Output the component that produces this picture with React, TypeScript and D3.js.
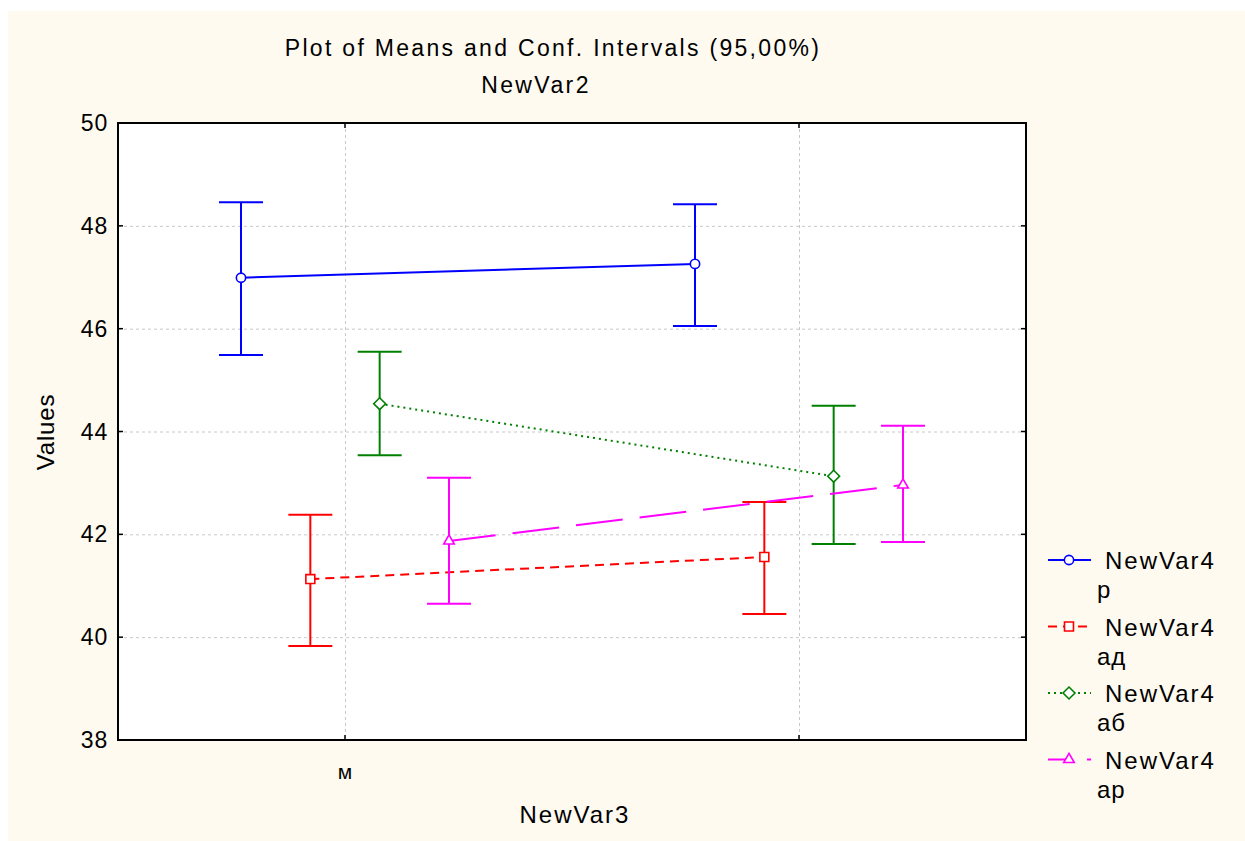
import React, { useRef, useEffect } from 'react';
import * as d3 from 'd3';

// categories on the x axis (second level has no printed label)
const categories = ['м', ''];
const seriesNames = ['р', 'ад', 'аб', 'ар'];
const seriesColors = ['#0000ff', '#ff0000', '#008000', '#ff00ff'];
const seriesDash = ['none', '9,6', '2,4', '47,17'];
const seriesMarker = ['circle', 'square', 'diamond', 'triangle'];

// means and 95% CI bounds per series, one value per category
const meansP = [46.99, 47.26];
const lowerP = [45.49, 46.05];
const upperP = [48.46, 48.42];

const meansAd = [41.13, 41.56];
const lowerAd = [39.83, 40.45];
const upperAd = [42.38, 42.63];

const meansAb = [44.54, 43.13];
const lowerAb = [43.54, 41.81];
const upperAb = [45.55, 44.5];

const meansAr = [41.87, 42.96];
const lowerAr = [40.65, 41.85];
const upperAr = [43.1, 44.11];

const yTicks = [38, 40, 42, 44, 46, 48, 50];

const allMeans = [meansP, meansAd, meansAb, meansAr];
const allLower = [lowerP, lowerAd, lowerAb, lowerAr];
const allUpper = [upperP, upperAd, upperAb, upperAr];

const W = 1245;
const H = 841;
const margin = { top: 123, right: 219, bottom: 101, left: 118 };
const FONT = '"Liberation Sans", Arial, sans-serif';

const markerPath = (type: string) => {
  const sym =
    type === 'circle' ? d3.symbolCircle :
    type === 'square' ? d3.symbolSquare :
    type === 'diamond' ? d3.symbolDiamond2 : d3.symbolTriangle2;
  const size = type === 'circle' ? 68 : type === 'diamond' ? 90 : 80;
  return d3.symbol().type(sym).size(size)() as string;
};

const App = () => {
  const ref = useRef<SVGSVGElement>(null);

  useEffect(() => {
    const svg = d3.select(ref.current);
    svg.selectAll('*').remove();

    const x0 = margin.left;
    const x1 = W - margin.right;
    const y0 = margin.top;
    const y1 = H - margin.bottom;

    const xScale = d3.scaleBand().domain(categories.map((c, i) => String(i))).range([x0, x1]);
    const offset = d3.scalePoint().domain(seriesNames).range([-104, 104]);
    const yScale = d3.scaleLinear().domain([38, 50]).range([y1, y0]);
    const cx = (i: number) => (xScale(String(i)) as number) + xScale.bandwidth() / 2;

    // background panel
    svg.append('rect').attr('x', 8).attr('y', 11).attr('width', W - 8).attr('height', H - 11).attr('fill', '#fefaf0');
    svg.append('rect').attr('x', x0).attr('y', y0).attr('width', x1 - x0).attr('height', y1 - y0).attr('fill', '#ffffff');

    // grid
    const grid = svg.append('g').attr('stroke', '#c8c8c8').attr('stroke-width', 1).attr('stroke-dasharray', '3,3');
    yTicks.slice(1, -1).forEach(t => {
      grid.append('line').attr('x1', x0).attr('x2', x1).attr('y1', yScale(t) + 0.5).attr('y2', yScale(t) + 0.5);
    });
    categories.forEach((c, i) => {
      grid.append('line').attr('x1', cx(i) + 0.5).attr('x2', cx(i) + 0.5).attr('y1', y0).attr('y2', y1);
    });

    // frame and inward ticks
    svg.append('rect').attr('x', x0).attr('y', y0).attr('width', x1 - x0).attr('height', y1 - y0)
      .attr('fill', 'none').attr('stroke', '#000').attr('stroke-width', 2);
    const ticks = svg.append('g').attr('stroke', '#000').attr('stroke-width', 1.5);
    yTicks.slice(1, -1).forEach(t => {
      ticks.append('line').attr('x1', x0).attr('x2', x0 + 5).attr('y1', yScale(t)).attr('y2', yScale(t));
      ticks.append('line').attr('x1', x1 - 5).attr('x2', x1).attr('y1', yScale(t)).attr('y2', yScale(t));
    });
    categories.forEach((c, i) => {
      ticks.append('line').attr('x1', cx(i)).attr('x2', cx(i)).attr('y1', y1).attr('y2', y1 - 5);
      ticks.append('line').attr('x1', cx(i)).attr('x2', cx(i)).attr('y1', y0).attr('y2', y0 + 5);
    });

    // y tick labels
    svg.append('g').selectAll('text').data(yTicks).enter().append('text')
      .attr('x', 108).attr('y', d => yScale(d) + 8)
      .attr('text-anchor', 'end').attr('font-family', FONT).attr('font-size', 23)
      .attr('letter-spacing', 0.8).attr('fill', '#000').text(d => d);

    // x tick labels
    categories.forEach((c, i) => {
      svg.append('text').attr('x', cx(i)).attr('y', 779).attr('text-anchor', 'middle')
        .attr('font-family', FONT).attr('font-size', 21).text(c);
    });

    // titles
    svg.append('text').attr('x', 553).attr('y', 56).attr('text-anchor', 'middle')
      .attr('font-family', FONT).attr('font-size', 23).attr('letter-spacing', 2.3)
      .text('Plot of Means and Conf. Intervals (95,00%)');
    svg.append('text').attr('x', 536).attr('y', 93).attr('text-anchor', 'middle')
      .attr('font-family', FONT).attr('font-size', 23).attr('letter-spacing', 2.4).text('NewVar2');
    svg.append('text').attr('x', 575).attr('y', 823).attr('text-anchor', 'middle')
      .attr('font-family', FONT).attr('font-size', 24).attr('letter-spacing', 2).text('NewVar3');
    svg.append('text').attr('transform', 'translate(54,432) rotate(-90)').attr('text-anchor', 'middle')
      .attr('font-family', FONT).attr('font-size', 24).attr('letter-spacing', 0.8).text('Values');

    // series
    seriesNames.forEach((name, s) => {
      const g = svg.append('g');
      const color = seriesColors[s];
      const pts = allMeans[s].map((m, i) => [cx(i) + (offset(name) as number), yScale(m)] as [number, number]);

      g.append('path').attr('d', d3.line()(pts) as string).attr('fill', 'none')
        .attr('stroke', color).attr('stroke-width', 2)
        .attr('stroke-dasharray', seriesDash[s]);

      pts.forEach(([px], i) => {
        const lo = yScale(allLower[s][i]);
        const hi = yScale(allUpper[s][i]);
        g.append('line').attr('x1', px).attr('x2', px).attr('y1', hi).attr('y2', lo).attr('stroke', color).attr('stroke-width', 2);
        g.append('line').attr('x1', px - 22).attr('x2', px + 22).attr('y1', hi).attr('y2', hi).attr('stroke', color).attr('stroke-width', 2);
        g.append('line').attr('x1', px - 22).attr('x2', px + 22).attr('y1', lo).attr('y2', lo).attr('stroke', color).attr('stroke-width', 2);
      });

      pts.forEach(([px, py]) => {
        g.append('path').attr('d', markerPath(seriesMarker[s])).attr('transform', `translate(${px},${py})`)
          .attr('fill', '#fff').attr('stroke', color).attr('stroke-width', 1.6);
      });

      // legend entry
      const ly = 560 + s * 66.5;
      const lg = svg.append('g');
      lg.append('line').attr('x1', 1048).attr('x2', 1091).attr('y1', ly).attr('y2', ly)
        .attr('stroke', color).attr('stroke-width', 2)
        .attr('stroke-dasharray', seriesDash[s])
        .attr('stroke-dashoffset', s === 3 ? 25 : 0);
      lg.append('path').attr('d', markerPath(seriesMarker[s])).attr('transform', `translate(1069,${ly})`)
        .attr('fill', '#fff').attr('stroke', color).attr('stroke-width', 1.6);
      lg.append('text').attr('x', 1105).attr('y', ly + 9).attr('font-family', FONT).attr('font-size', 24)
        .attr('letter-spacing', 2).text('NewVar4');
      lg.append('text').attr('x', 1097).attr('y', ly + 38).attr('font-family', FONT).attr('font-size', 24)
        .attr('letter-spacing', 1).text(name);
    });
  }, []);

  return <svg ref={ref} width={W} height={H} style={{ position: 'absolute', left: 0, top: 0 }}></svg>;
};

export default App;
